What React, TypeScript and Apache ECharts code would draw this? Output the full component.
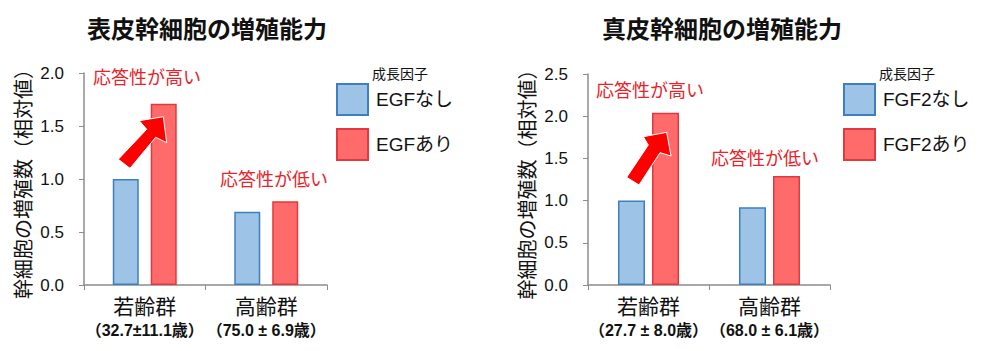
import React, { useEffect, useRef } from "react";
import * as echarts from "echarts";

const categories = ["若齢群", "高齢群"];
const agesLeft = ["（32.7±11.1歳）", "（75.0 ± 6.9歳）"];
const agesRight = ["（27.7 ± 8.0歳）", "（68.0 ± 6.1歳）"];
const egfNone = [1.0, 0.69];
const egfWith = [1.71, 0.79];
const fgfNone = [1.0, 0.92];
const fgfWith = [2.04, 1.29];
const titles = ["表皮幹細胞の増殖能力", "真皮幹細胞の増殖能力"];
const seriesNames = ["EGFなし", "EGFあり", "FGF2なし", "FGF2あり"];
const yName = "幹細胞の増殖数（相対値）";
const legendTitle = "成長因子";
const highNote = "応答性が高い";
const lowNote = "応答性が低い";

const FONT = "'Liberation Sans', 'Noto Sans CJK JP', sans-serif";
const BLUE = "#9DC3E6";
const BLUE_B = "#3F7FC0";
const RED = "#FF6B6B";
const RED_B = "#E0393E";
const NOTE = "#E8232A";
const AXIS = "#8C8C8C";

function xAxisFor(grid: number, ages: string[]) {
  return {
    type: "category",
    gridIndex: grid,
    data: categories,
    axisLine: { lineStyle: { color: AXIS, width: 1.5 } },
    axisTick: { show: true, length: 5, lineStyle: { color: AXIS } },
    axisLabel: {
      interval: 0,
      margin: 9,
      formatter: (v: string, i: number) => `{a|${v}}\n{b|${ages[i]}}`,
      rich: {
        a: { fontSize: 21, lineHeight: 25, color: "#111", fontFamily: FONT },
        b: { fontSize: 16, lineHeight: 22, color: "#111", fontWeight: "bold", fontFamily: FONT },
      },
    },
  };
}

function yAxisFor(grid: number, max: number) {
  return {
    type: "value",
    gridIndex: grid,
    min: 0,
    max,
    interval: 0.5,
    name: yName,
    nameLocation: "middle",
    nameRotate: 90,
    nameGap: 52,
    nameTextStyle: { fontSize: 20, color: "#111", fontFamily: "'Noto Sans CJK JP', sans-serif" },
    axisLine: { show: true, lineStyle: { color: AXIS, width: 1.5 } },
    axisTick: { show: true, length: 5, lineStyle: { color: AXIS } },
    splitLine: { show: false },
    axisLabel: {
      margin: 20,
      fontSize: 17,
      color: "#111",
      fontFamily: FONT,
      formatter: (v: number) => v.toFixed(1),
    },
  };
}

function bar(name: string, data: number[], idx: number, blue: boolean, w: number, gap: string) {
  return {
    type: "bar",
    name,
    data,
    xAxisIndex: idx,
    yAxisIndex: idx,
    barWidth: w,
    barGap: gap,
    z: 2,
    itemStyle: {
      color: blue ? BLUE : RED,
      borderColor: blue ? BLUE_B : RED_B,
      borderWidth: 1.5,
    },
  };
}

function noteText(x: number, y: number, text: string) {
  return {
    type: "text",
    x,
    y,
    z: 100,
    style: {
      text,
      fill: NOTE,
      fontSize: 18,
      fontFamily: FONT,
      textAlign: "left",
      textVerticalAlign: "middle",
    },
  };
}

function arrow(points: number[][]) {
  return {
    type: "polygon",
    z: 100,
    shape: { points },
    style: { fill: "#FF0000", stroke: "#ffffff", lineWidth: 1 },
  };
}

export default function App() {
  const ref = useRef<HTMLDivElement>(null);
  useEffect(() => {
    if (!ref.current) return;
    const chart = echarts.init(ref.current, null, { renderer: "svg" });
    const legendBase = {
      orient: "vertical",
      top: 78,
      itemWidth: 31,
      itemHeight: 31,
      itemGap: 12,
      icon: "rect",
      selectedMode: false,
      textStyle: { fontSize: 19, color: "#111", fontFamily: FONT, padding: [0, 0, 0, 3] },
    };
    chart.setOption({
      animation: false,
      backgroundColor: "#ffffff",
      textStyle: { fontFamily: FONT },
      title: [
        {
          text: titles[0],
          left: 202,
          top: 12,
          textAlign: "center",
          textStyle: { fontSize: 24, fontWeight: "bold", color: "#111", fontFamily: FONT },
        },
        {
          text: titles[1],
          left: 717,
          top: 12,
          textAlign: "center",
          textStyle: { fontSize: 24, fontWeight: "bold", color: "#111", fontFamily: FONT },
        },
      ],
      legend: [
        { ...legendBase, data: [seriesNames[0], seriesNames[1]], left: 331 },
        { ...legendBase, data: [seriesNames[2], seriesNames[3]], left: 838 },
      ],
      grid: [
        { left: 84, top: 73, width: 243, height: 212 },
        { left: 588, top: 74, width: 242, height: 211 },
      ],
      xAxis: [xAxisFor(0, agesLeft), xAxisFor(1, agesRight)],
      yAxis: [yAxisFor(0, 2.0), yAxisFor(1, 2.5)],
      series: [
        bar(seriesNames[0], egfNone, 0, true, 26, "46%"),
        bar(seriesNames[1], egfWith, 0, false, 26, "46%"),
        bar(seriesNames[2], fgfNone, 1, true, 27, "26%"),
        bar(seriesNames[3], fgfWith, 1, false, 27, "26%"),
      ],
      graphic: [
        {
          type: "text",
          x: 372,
          y: 74,
          z: 100,
          style: { text: legendTitle, fill: "#111", fontSize: 14, fontFamily: FONT, textVerticalAlign: "middle" },
        },
        {
          type: "text",
          x: 879,
          y: 74,
          z: 100,
          style: { text: legendTitle, fill: "#111", fontSize: 14, fontFamily: FONT, textVerticalAlign: "middle" },
        },
        noteText(93, 78, highNote),
        noteText(220, 180, lowNote),
        noteText(596, 91, highNote),
        noteText(711, 159, lowNote),
        arrow([
          [118.3, 159.3],
          [146.7, 129.3],
          [139.3, 120.7],
          [163.3, 116.7],
          [166.7, 142.7],
          [155.7, 137.3],
          [130, 168.3],
        ]),
        arrow([
          [626.7, 177.3],
          [648.3, 145],
          [643.3, 136.7],
          [666.7, 132.3],
          [671, 156],
          [660, 152.7],
          [639, 185],
        ]),
      ],
    });
    return () => chart.dispose();
  }, []);
  return (
    <div
      ref={ref}
      style={{ position: "absolute", left: 0, top: 0, width: 986, height: 351 }}
    />
  );
}
